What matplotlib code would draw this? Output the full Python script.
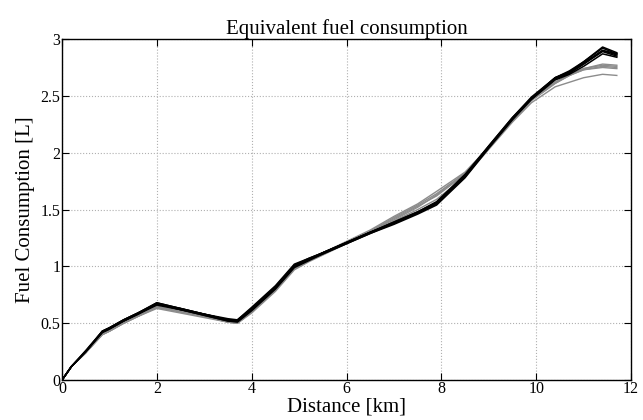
import numpy as np
import matplotlib.pyplot as plt

plt.rcParams['font.family'] = ['Liberation Serif', 'DejaVu Serif']

distance = [0, 0.2, 0.5, 0.85, 1.0, 1.3, 1.6, 2.0, 2.5, 3.0, 3.5, 3.7, 4.0, 4.5, 4.9,
            5.2, 5.5, 6.0, 6.5, 7.0, 7.5, 7.9, 8.5, 9.0, 9.5, 9.9, 10.4, 10.7, 11.0, 11.4, 11.7]

# gray runs (drawn first, underneath)
gray_runs = [
    [0, 0.12, 0.24, 0.40, 0.43, 0.50, 0.56, 0.64, 0.60, 0.56, 0.51, 0.50, 0.60, 0.79, 0.98,
     1.05, 1.11, 1.21, 1.31, 1.42, 1.53, 1.62, 1.81, 2.04, 2.28, 2.46, 2.61, 2.68, 2.73, 2.76, 2.75],
    [0, 0.12, 0.24, 0.40, 0.43, 0.50, 0.56, 0.63, 0.59, 0.55, 0.51, 0.50, 0.59, 0.78, 0.97,
     1.04, 1.10, 1.20, 1.30, 1.40, 1.50, 1.59, 1.79, 2.03, 2.27, 2.44, 2.58, 2.62, 2.66, 2.69, 2.68],
    [0, 0.12, 0.24, 0.41, 0.44, 0.51, 0.57, 0.65, 0.61, 0.56, 0.52, 0.51, 0.61, 0.80, 0.99,
     1.06, 1.12, 1.22, 1.32, 1.44, 1.55, 1.66, 1.83, 2.05, 2.29, 2.47, 2.62, 2.69, 2.74, 2.78, 2.77],
    [0, 0.12, 0.25, 0.41, 0.44, 0.51, 0.57, 0.65, 0.61, 0.57, 0.52, 0.51, 0.61, 0.80, 0.99,
     1.05, 1.11, 1.21, 1.31, 1.41, 1.52, 1.63, 1.82, 2.05, 2.29, 2.47, 2.62, 2.68, 2.73, 2.75, 2.74],
    [0, 0.12, 0.24, 0.40, 0.43, 0.50, 0.56, 0.64, 0.60, 0.56, 0.51, 0.50, 0.60, 0.79, 0.98,
     1.05, 1.11, 1.21, 1.31, 1.43, 1.54, 1.64, 1.82, 2.04, 2.28, 2.46, 2.61, 2.68, 2.74, 2.77, 2.76],
]

black_runs = [
    [0, 0.12, 0.25, 0.43, 0.46, 0.53, 0.59, 0.68, 0.63, 0.58, 0.53, 0.53, 0.63, 0.82, 1.01,
     1.07, 1.12, 1.21, 1.30, 1.38, 1.47, 1.55, 1.79, 2.05, 2.30, 2.48, 2.66, 2.71, 2.80, 2.93, 2.88],
    [0, 0.12, 0.25, 0.42, 0.45, 0.52, 0.58, 0.67, 0.62, 0.57, 0.52, 0.52, 0.62, 0.81, 1.00,
     1.06, 1.11, 1.20, 1.29, 1.38, 1.47, 1.56, 1.80, 2.05, 2.30, 2.47, 2.65, 2.70, 2.78, 2.90, 2.86],
    [0, 0.12, 0.25, 0.42, 0.45, 0.52, 0.58, 0.66, 0.62, 0.57, 0.52, 0.51, 0.61, 0.80, 0.99,
     1.05, 1.11, 1.20, 1.29, 1.37, 1.46, 1.54, 1.78, 2.04, 2.29, 2.47, 2.64, 2.69, 2.76, 2.87, 2.84],
    [0, 0.12, 0.26, 0.43, 0.46, 0.53, 0.59, 0.68, 0.63, 0.58, 0.54, 0.53, 0.64, 0.83, 1.02,
     1.07, 1.12, 1.21, 1.30, 1.39, 1.48, 1.57, 1.81, 2.06, 2.31, 2.49, 2.66, 2.72, 2.80, 2.92, 2.87],
    [0, 0.12, 0.25, 0.42, 0.45, 0.52, 0.58, 0.67, 0.62, 0.58, 0.53, 0.52, 0.62, 0.81, 1.00,
     1.06, 1.12, 1.21, 1.30, 1.38, 1.47, 1.55, 1.79, 2.05, 2.30, 2.48, 2.65, 2.70, 2.78, 2.89, 2.85],
    [0, 0.12, 0.25, 0.43, 0.46, 0.53, 0.59, 0.67, 0.63, 0.58, 0.53, 0.52, 0.63, 0.82, 1.01,
     1.06, 1.12, 1.21, 1.30, 1.39, 1.48, 1.56, 1.80, 2.06, 2.31, 2.48, 2.66, 2.71, 2.79, 2.90, 2.87],
]

fig = plt.figure(figsize=(6.43, 4.20), dpi=100)
ax = fig.add_axes([0.0964, 0.095, 0.885, 0.812])

for run in gray_runs:
    ax.plot(distance, run, color='#8c8c8c', lw=1.0)
for run in black_runs:
    ax.plot(distance, run, color='black', lw=1.1)

ax.set_xlim(0, 12)
ax.set_ylim(0, 3)
ax.set_xticks(np.arange(0, 13, 2))
ax.set_yticks(np.arange(0, 3.01, 0.5))
ax.set_yticklabels(['0', '0.5', '1', '1.5', '2', '2.5', '3'])
ax.grid(True, linestyle=':', color='#b0b0b0', lw=0.8)
ax.tick_params(direction='in', top=True, right=True, length=5, labelsize=11.5, pad=1)
for s in ax.spines.values():
    s.set_linewidth(1.0)

ax.set_title('Equivalent fuel consumption', fontsize=15, pad=4)
ax.set_xlabel('Distance [km]', fontsize=15, labelpad=0)
ax.set_ylabel('Fuel Consumption [L]', fontsize=15, labelpad=4)

fig.savefig('out.png', dpi=100)
